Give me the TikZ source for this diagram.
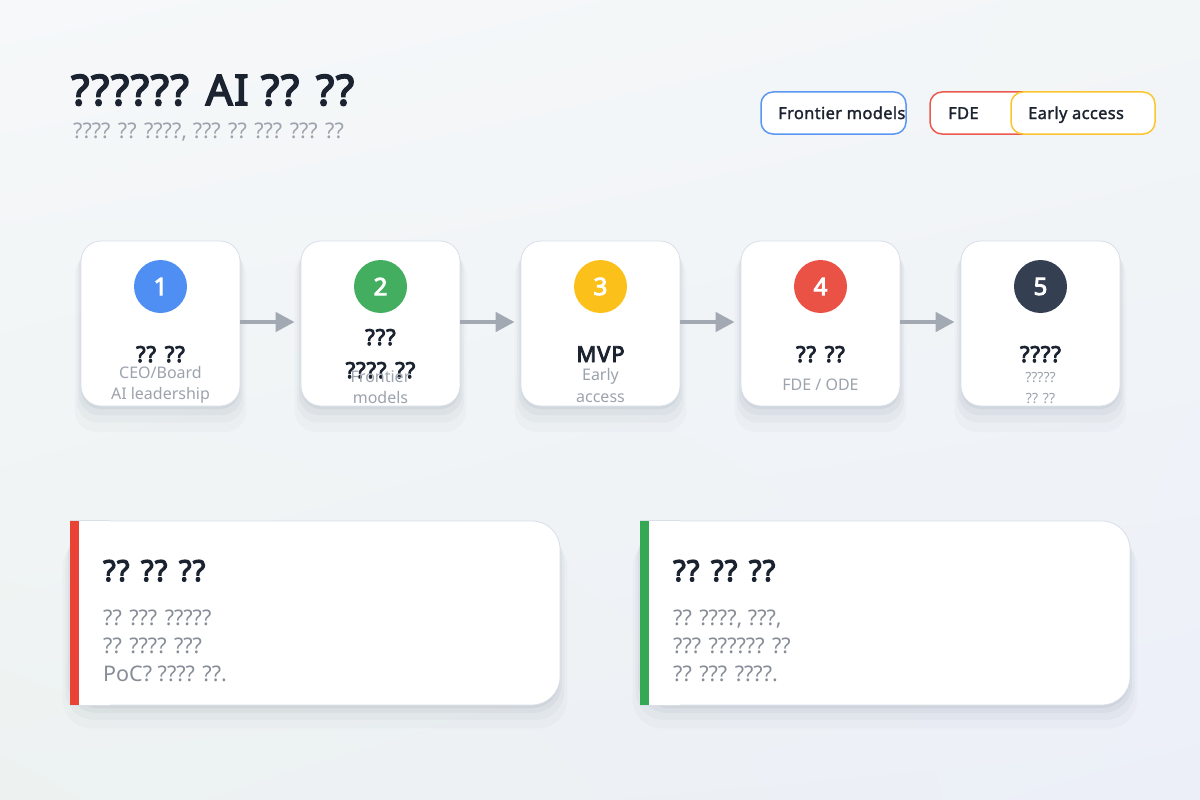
\documentclass[tikz,border=0pt]{standalone}
\usepackage{fontspec}
\setmainfont{Noto Sans}[BoldFont={Noto Sans},BoldFeatures={FakeBold=4,LetterSpace=4}]
\newfontfamily\semib{Noto Sans}[FakeBold=1.5,LetterSpace=2]
\usepackage{xcolor}
\usetikzlibrary{arrows.meta}
\usetikzlibrary{shadings}
\usetikzlibrary{shadows}
\tikzset{>=latex}
\definecolor{ink}{HTML}{1B2230}
\definecolor{subgray}{HTML}{9CA3AD}
\definecolor{bodygray}{HTML}{878D97}
\definecolor{cborder}{HTML}{D8DFE9}
\definecolor{arrowgray}{HTML}{A2A9B3}
\definecolor{cblue}{HTML}{4F8EF2}
\definecolor{cgreen}{HTML}{43AE5F}
\definecolor{cyellow}{HTML}{FBC11A}
\definecolor{cred}{HTML}{EB5246}
\definecolor{cdark}{HTML}{344052}
\definecolor{lblue}{HTML}{5B96F0}
\definecolor{lred}{HTML}{EA5A4E}
\definecolor{lyellow}{HTML}{FBC52E}
\definecolor{barred}{HTML}{EA4335}
\definecolor{bargreen}{HTML}{34A853}
\definecolor{bgul}{HTML}{F6F8FA}
\definecolor{bgur}{HTML}{F3F6F7}
\definecolor{bgll}{HTML}{EDF2F1}
\definecolor{bglr}{HTML}{ECEFF8}
\definecolor{shadowcol}{HTML}{5A6878}
\newcommand\fsz[1]{\fontsize{#1}{#1}\selectfont}
\tikzset{
  cardshadow/.style={
    drop shadow={fill=shadowcol,opacity=0.03,shadow xshift=0pt,shadow yshift=-18pt,shadow scale=1.08},
    drop shadow={fill=shadowcol,opacity=0.045,shadow xshift=0pt,shadow yshift=-12pt,shadow scale=1.05},
    drop shadow={fill=shadowcol,opacity=0.06,shadow xshift=0pt,shadow yshift=-7pt,shadow scale=1.025},
    drop shadow={fill=shadowcol,opacity=0.08,shadow xshift=0pt,shadow yshift=-3pt,shadow scale=1.0}},
  panelshadow/.style={
    drop shadow={fill=shadowcol,opacity=0.03,shadow xshift=0pt,shadow yshift=-20pt,shadow scale=1.03},
    drop shadow={fill=shadowcol,opacity=0.045,shadow xshift=0pt,shadow yshift=-13pt,shadow scale=1.018},
    drop shadow={fill=shadowcol,opacity=0.06,shadow xshift=0pt,shadow yshift=-7pt,shadow scale=1.008},
    drop shadow={fill=shadowcol,opacity=0.08,shadow xshift=0pt,shadow yshift=-3pt,shadow scale=1.0}},
  card/.style={draw=cborder,line width=0.8pt,fill=white,rounded corners=20pt,
    minimum width=159pt,minimum height=165pt,cardshadow},
  stepnum/.style={circle,minimum size=53pt,inner sep=0pt,text=white,
    font=\bfseries\fsz{24}},
  cardtitle/.style={anchor=base,inner sep=0pt,text=ink,font=\bfseries\fsz{22}},
  cardsub/.style={anchor=base,inner sep=0pt,text=subgray,font=\fsz{16}},
  flow/.style={arrowgray,line width=4.5pt,shorten >=6pt,
    -{Triangle[length=19pt,width=19pt]}},
  pill/.style={fill=white,line width=1.5pt,rounded corners=12pt,
    minimum width=145pt,minimum height=42pt},
  legtext/.style={anchor=base west,inner sep=0pt,text=ink,font=\semib\fsz{16.5}},
  panel/.style={draw=cborder,line width=0.8pt,fill=white,rounded corners=28pt,
    minimum width=490pt,minimum height=184pt,panelshadow},
  paneltitle/.style={anchor=base west,inner sep=0pt,text=ink,font=\bfseries\fsz{29}},
  panelbody/.style={anchor=base west,inner sep=0pt,text=bodygray,font=\fsz{21.5}}
}
\begin{document}
\begin{tikzpicture}[x=1pt,y=-1pt]
  \useasboundingbox (0,0) rectangle (1200,800);
  \shade[upper left=bgul,upper right=bgur,lower left=bgll,lower right=bglr] (0,0) rectangle (1200,800);

  % heading
  \node[anchor=base west,inner sep=0pt,text=ink,font=\bfseries\fsz{42}] (title) at (71,105) {?????? AI ?? ??};
  \node[anchor=base west,inner sep=0pt,text=subgray,font=\fsz{21.5}] (subtitle) at (73,138) {???? ?? ????, ??? ?? ??? ??? ??};

  % legend
  \node[pill,draw=lblue] (legfront) at (833.5,113) {};
  \node[pill,draw=lred] (legfde) at (1002.5,113) {};
  \node[pill,draw=lyellow,minimum width=144pt] (legearly) at (1083,113) {};
  \node[legtext] at (778,119) {Frontier models};
  \node[legtext] at (948,119) {FDE};
  \node[legtext] at (1028,119) {Early access};

  % steps
  \foreach \i/\x/\col in {1/160.5/cblue,2/380.5/cgreen,3/600.5/cyellow,4/820.5/cred,5/1040.5/cdark}{
    \node[card] (card\i) at (\x,323.5) {};
    \node[stepnum,fill=\col] (num\i) at (\x,286.5) {\i};
  }
  \foreach \i/\j in {1/2,2/3,3/4,4/5}
    \draw[flow] ([yshift=1.5pt]card\i.east) -- ([yshift=1.5pt]card\j.west);

  \node[cardtitle] at (160.5,362) {?? ??};
  \node[cardsub] at (160.5,378) {CEO/Board};
  \node[cardsub] at (160.5,399) {AI leadership};

  \node[cardtitle] at (380.5,345) {???};
  \node[cardtitle] at (380.5,378) {???? ??};
  \node[cardsub] at (380.5,382) {Frontier};
  \node[cardsub] at (380.5,403) {models};

  \node[cardtitle] at (600.5,362) {MVP};
  \node[cardsub] at (600.5,380) {Early};
  \node[cardsub] at (600.5,402) {access};

  \node[cardtitle] at (820.5,362) {?? ??};
  \node[cardsub] at (820.5,390) {FDE / ODE};

  \node[cardtitle] at (1040.5,362) {????};
  \node[cardsub,font=\fsz{14}] at (1040.5,382) {?????};
  \node[cardsub,font=\fsz{14}] at (1040.5,403) {?? ??};

  % panels
  \foreach \p/\x/\col in {L/315/barred,R/885/bargreen}{
    \node[panel] (panel\p) at (\x,613) {};
    \fill[white] (panel\p.north west) rectangle ([xshift=40pt]panel\p.south west);
    \draw[cborder,line width=0.8pt] (panel\p.north west) -- ++(40,0);
    \draw[cborder,line width=0.8pt] (panel\p.south west) -- ++(40,0);
    \fill[\col] (panel\p.north west) rectangle ([xshift=9pt]panel\p.south west);
  }
  \node[paneltitle] at (103,581) {?? ?? ??};
  \node[panelbody] at (103,625) {?? ??? ?????};
  \node[panelbody] at (103,653) {?? ???? ???};
  \node[panelbody] at (103,681) {PoC? ???? ??.};

  \node[paneltitle] at (673,581) {?? ?? ??};
  \node[panelbody] at (673,625) {?? ????, ???,};
  \node[panelbody] at (673,653) {??? ?????? ??};
  \node[panelbody] at (673,681) {?? ??? ????.};
\end{tikzpicture}
\end{document}
